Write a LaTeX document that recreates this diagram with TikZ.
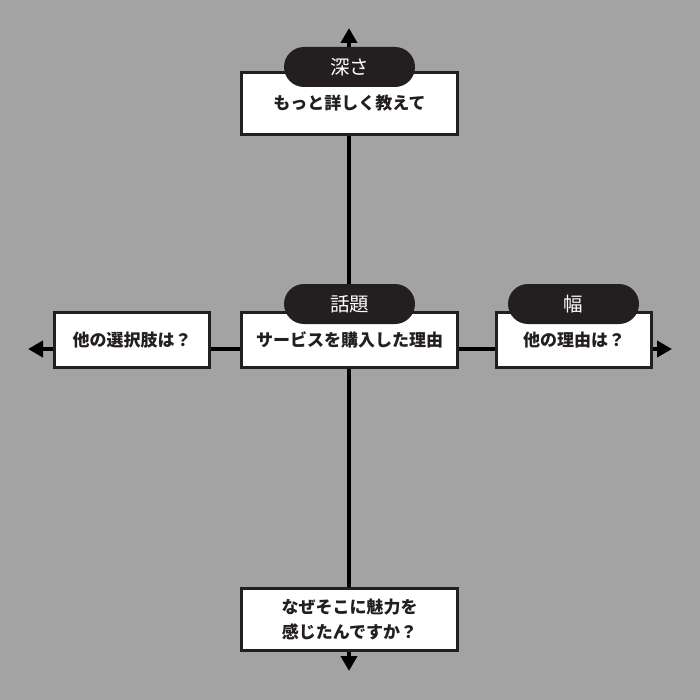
\documentclass[tikz,border=0pt]{standalone}
\usepackage{fontspec}
\setmainfont{Noto Sans CJK JP}
\usetikzlibrary{arrows.meta}
\definecolor{bg}{HTML}{A3A3A3}
\definecolor{ink}{HTML}{231F20}
\tikzset{
  qbox/.style={draw=ink, line width=3pt, fill=white, inner sep=0pt,
    font=\fontsize{17}{25}\selectfont\bfseries, text=ink, align=center},
  pill/.style={fill=ink, rounded corners=20pt, minimum width=131pt, minimum height=40pt,
    inner sep=0pt, font=\fontsize{19.5}{22}\selectfont, text=white},
  axis/.style={line width=4pt, black, -{Triangle[width=16pt,length=15pt]}}
}
\begin{document}
\begin{tikzpicture}[x=1pt,y=-1pt]
\fill[bg] (0,0) rectangle (700,700);
\useasboundingbox (0,0) rectangle (700,700);
\coordinate (c) at (349,349);
\coordinate (ytop) at (349,28);
\coordinate (ybot) at (349,671);
\coordinate (xl) at (28,349);
\coordinate (xr) at (672,349);
\draw[axis] (c) -- (ytop);
\draw[axis] (c) -- (ybot);
\draw[axis] (c) -- (xl);
\draw[axis] (c) -- (xr);
\node[qbox, minimum width=216pt, minimum height=62pt] (deep) at (349.5,103.5) {\raisebox{-2pt}{もっと詳しく教えて}};
\node[qbox, minimum width=216pt, minimum height=55pt] (topic) at (349.5,340) {\raisebox{-2pt}{サービスを購入した理由}};
\node[qbox, minimum width=155pt, minimum height=55pt] (alt) at (132,340) {\raisebox{-1pt}{他の選択肢は？}};
\node[qbox, minimum width=155pt, minimum height=55pt] (wide) at (574,340) {\raisebox{-2pt}{他の理由は？}};
\node[qbox, minimum width=216pt, minimum height=62pt] (why) at (349.5,619.5) {なぜそこに魅力を\\感じたんですか？};
\node[pill] (p1) at (349.5,67) {深さ};
\node[pill] (p2) at (349.5,304) {話題};
\node[pill] (p3) at (573.5,304) {幅};
\end{tikzpicture}
\end{document}
